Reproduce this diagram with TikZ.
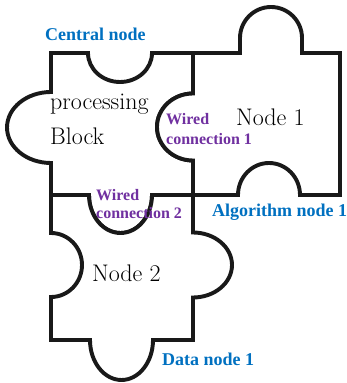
\documentclass[tikz,border=0pt]{standalone}
\usepackage{fontspec}
\newfontfamily\tagfont{Liberation Serif}
\definecolor{nodeblue}{RGB}{0,112,192}
\definecolor{wirepurple}{RGB}{112,48,160}
\begin{document}
\begin{tikzpicture}[x=1pt,y=1pt,
	piece/.style={draw=black!90, line width=3.9pt, fill=white},
	plain/.style={anchor=base west, inner sep=0pt, font=\fontsize{24}{24}\selectfont},
	wire/.style={anchor=base west, inner sep=0pt, text=wirepurple, font=\tagfont\bfseries\fontsize{16}{16}\selectfont},
	role/.style={anchor=base west, inner sep=0pt, text=nodeblue, font=\tagfont\bfseries\fontsize{18}{18}\selectfont}]
	\useasboundingbox (0,0) rectangle (346,383);
	% central piece
	\draw[piece] (51,330) -- (88,330) arc[start angle=180, end angle=360, x radius=32, y radius=29] -- (193,330)
		-- (193,289.5) arc[start angle=90, end angle=270, x radius=36, y radius=33.5]
		-- (193,188) -- (152,188) arc[start angle=0, end angle=-180, x radius=31.5, y radius=38]
		-- (51,188) -- (51,220) arc[start angle=-90, end angle=-270, x radius=44, y radius=35.5] -- cycle;
	% node 1 piece
	\draw[piece] (193,330) -- (240,330) -- (240,345) arc[start angle=180, end angle=0, radius=31] -- (302,330)
		-- (340,330) -- (340,188) -- (300,188) arc[start angle=0, end angle=180, x radius=31, y radius=32]
		-- (193,188) -- (193,222.5) arc[start angle=-90, end angle=-270, x radius=36, y radius=33.5] -- cycle;
	% node 2 piece
	\draw[piece] (51,188) -- (89,188) arc[start angle=180, end angle=360, x radius=31.5, y radius=38] -- (193,188)
		-- (193,150.5) arc[start angle=90, end angle=-90, x radius=39, y radius=32.5]
		-- (193,43) -- (153,43) arc[start angle=0, end angle=-180, x radius=31.5, y radius=40]
		-- (51,43) -- (51,86) arc[start angle=-90, end angle=90, x radius=31, y radius=32] -- cycle;
	% texts
	\node[role] (central) at (45,342) {Central node};
	\node[plain] (proc) at (50,273) {processing};
	\node[plain] (block) at (50,238) {Block};
	\node[wire] (wireA) at (166,258) {Wired};
	\node[wire] (wireB) at (166,238) {connection 1};
	\node[plain] (node1) at (236,257) {Node 1};
	\node[wire] (wireC) at (96,182) {Wired};
	\node[wire] (wireD) at (96,164) {connection 2};
	\node[role] (algo) at (212,166) {Algorithm node 1};
	\node[plain] (node2) at (92,101) {Node 2};
	\node[role] (data) at (162,17) {Data node 1};
\end{tikzpicture}
\end{document}
